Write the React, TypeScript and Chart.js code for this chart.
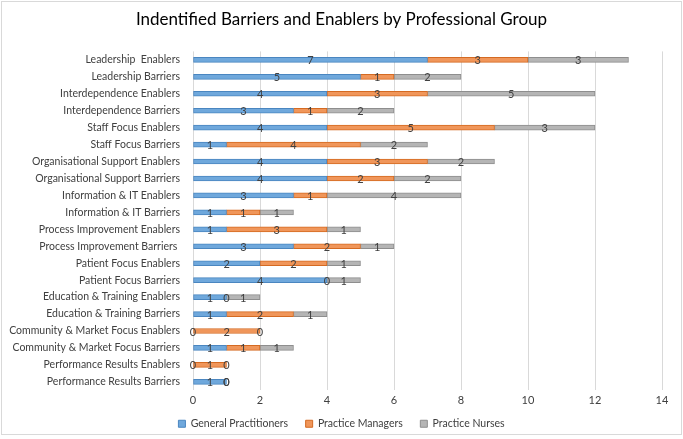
import React, { useEffect, useRef } from "react";
import { Chart, registerables } from "chart.js";

Chart.register(...registerables);

const categories = [
  "Leadership  Enablers",
  "Leadership Barriers",
  "Interdependence Enablers",
  "Interdependence Barriers",
  "Staff Focus Enablers",
  "Staff Focus Barriers",
  "Organisational Support Enablers",
  "Organisational Support Barriers",
  "Information & IT Enablers",
  "Information & IT Barriers",
  "Process Improvement Enablers",
  "Process Improvement Barriers ",
  "Patient Focus Enablers",
  "Patient Focus Barriers",
  "Education & Training Enablers",
  "Education & Training Barriers",
  "Community & Market Focus Enablers",
  "Community & Market Focus Barriers",
  "Performance Results Enablers",
  "Performance Results Barriers",
];

const generalPractitioners = [7, 5, 4, 3, 4, 1, 4, 4, 3, 1, 1, 3, 2, 4, 1, 1, 0, 1, 0, 1];
const practiceManagers = [3, 1, 3, 1, 5, 4, 3, 2, 1, 1, 3, 2, 2, 0, 0, 2, 2, 1, 1, 0];
const practiceNurses = [3, 2, 5, 2, 3, 2, 2, 2, 4, 1, 1, 1, 1, 1, 1, 1, 0, 1, 0, 0];

const seriesNames = ["General Practitioners", "Practice Managers", "Practice Nurses"];
const xTicks = [0, 2, 4, 6, 8, 10, 12, 14];

const FONT = "Lato, 'Liberation Sans', sans-serif";

const labelPlugin = {
  id: "barLabels",
  afterDatasetsDraw(chart: any) {
    const ctx = chart.ctx;
    ctx.save();
    ctx.font = `11px ${FONT}`;
    ctx.fillStyle = "#404040";
    ctx.textAlign = "center";
    ctx.textBaseline = "middle";
    chart.data.datasets.forEach((ds: any, di: number) => {
      const meta = chart.getDatasetMeta(di);
      meta.data.forEach((el: any, i: number) => {
        const v = ds.data[i];
        const cx = (el.x + el.base) / 2;
        ctx.fillText(String(v), cx, el.y + 1);
      });
    });
    ctx.restore();
  },
};

export default function App() {
  const ref = useRef<HTMLCanvasElement>(null);
  useEffect(() => {
    if (!ref.current) return;
    const colors = ["#6FA8DC", "#F0965A", "#B5B5B5"];
    const borders = ["#4A86C0", "#D46A22", "#8E8E8E"];
    const values = [generalPractitioners, practiceManagers, practiceNurses];
    const chart = new Chart(ref.current, {
      type: "bar",
      data: {
        labels: categories,
        datasets: seriesNames.map((n, i) => ({
          label: n,
          data: values[i],
          backgroundColor: colors[i],
          borderColor: borders[i],
          borderWidth: 1,
          borderSkipped: false,
          barThickness: 5,
        })),
      },
      options: {
        indexAxis: "y",
        animation: false,
        responsive: false,
        maintainAspectRatio: false,
        layout: { padding: { left: 0, right: 0, top: 6, bottom: 0 } },
        plugins: {
          title: {
            display: true,
            text: "Indentified Barriers and Enablers by Professional Group",
            font: { family: FONT, size: 17, weight: "normal" },
            color: "#000000",
            padding: { top: 3, bottom: 22 },
          },
          legend: {
            position: "bottom",
            labels: {
              font: { family: FONT, size: 10.5 },
              color: "#404040",
              boxWidth: 7,
              boxHeight: 7,
              padding: 7,
              generateLabels: (chart: any) => {
                const items = Chart.defaults.plugins.legend.labels.generateLabels(chart);
                return items.map((it: any, idx: number) => ({
                  ...it,
                  text: idx < items.length - 1 ? it.text + "\u2002\u2002" : it.text,
                }));
              },
            },
          },
          tooltip: { enabled: false },
        },
        scales: {
          x: {
            stacked: true,
            min: 0,
            max: 14,
            afterBuildTicks: (s: any) => {
              s.ticks = xTicks.map((v) => ({ value: v }));
            },
            ticks: { font: { family: FONT, size: 11 }, color: "#404040", padding: 4 },
            grid: { color: "#D9D9D9", drawTicks: false },
            border: { display: false },
          },
          y: {
            stacked: true,
            afterFit: (s: any) => {
              s.width = 193;
            },
            ticks: { font: { family: FONT, size: 10.5 }, color: "#404040", padding: 5, autoSkip: false },
            grid: { display: false },
            border: { display: false },
          },
          yRight: {
            type: "linear",
            position: "right",
            display: true,
            afterFit: (s: any) => {
              s.width = 21;
            },
            ticks: { display: false },
            grid: { display: false },
            border: { display: false },
          },
        },
      },
      plugins: [labelPlugin],
    });
    return () => chart.destroy();
  }, []);
  return (
    <div
      style={{
        position: "absolute",
        left: 0,
        top: 0,
        width: 683,
        height: 439,
        background: "#fff",
        boxSizing: "border-box",
      }}
    >
      <canvas ref={ref} width={683} height={439} style={{ display: "block" }} />
      <div
        style={{
          position: "absolute",
          left: 1,
          top: 1,
          width: 681,
          height: 434,
          border: "1px solid #D9D9D9",
          boxSizing: "border-box",
          pointerEvents: "none",
        }}
      />
    </div>
  );
}
